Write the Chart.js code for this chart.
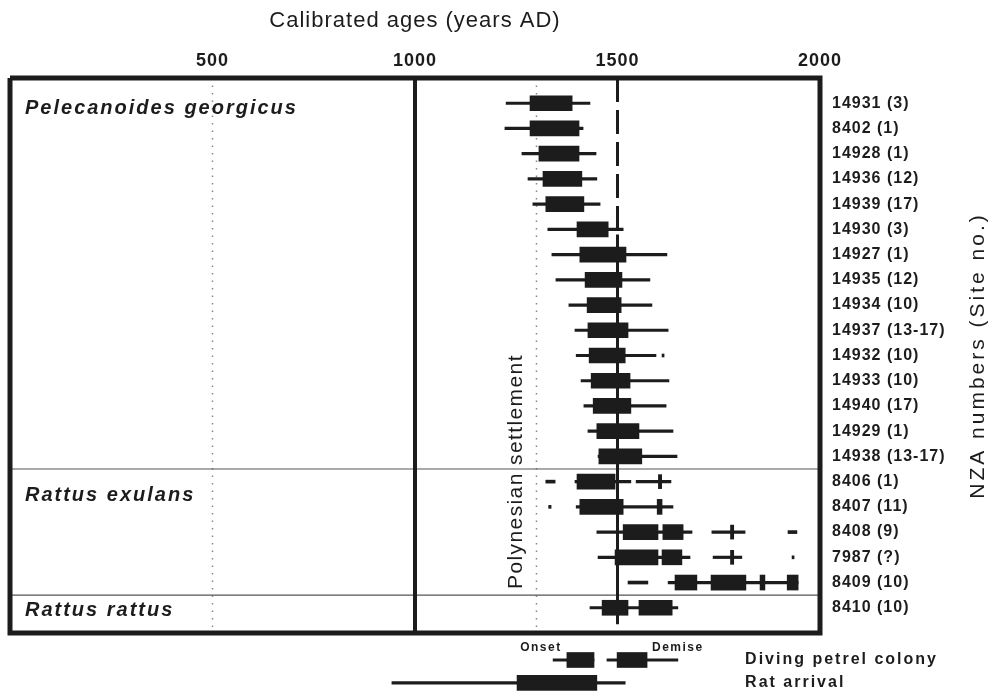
<!DOCTYPE html>
<html lang="en">
<head>
<meta charset="UTF-8">
<script src="https://cdn.jsdelivr.net/npm/chart.js"></script>
<title>Calibrated ages</title>
<style>
  body { margin: 0; background: #fff; }
  canvas { display: block; }
</style>
</head>
<body>
<canvas id="myChart" width="993" height="695"></canvas>
<script>
// one row per NZA sample, top to bottom
const siteLabels = ['14931 (3)', '8402 (1)', '14928 (1)', '14936 (12)', '14939 (17)', '14930 (3)',
  '14927 (1)', '14935 (12)', '14934 (10)', '14937 (13-17)', '14932 (10)', '14933 (10)', '14940 (17)',
  '14929 (1)', '14938 (13-17)', '8406 (1)', '8407 (11)', '8408 (9)', '7987 (?)', '8409 (10)', '8410 (10)'];
const groups = ['Pelecanoides georgicus', 'Rattus exulans', 'Rattus rattus'];

// [row, from, to] in years AD
const boxes = [
  [0, 1284, 1388], [1, 1284, 1405], [2, 1306, 1405], [3, 1316, 1412], [4, 1323, 1417],
  [5, 1400, 1477], [6, 1407, 1521], [7, 1420, 1511], [8, 1425, 1509], [9, 1427, 1526],
  [10, 1430, 1519], [11, 1435, 1531], [12, 1440, 1533], [13, 1449, 1553], [14, 1454, 1560],
  [15, 1400, 1494], [16, 1407, 1514], [16, 1598, 1610],
  [17, 1514, 1600], [17, 1612, 1662], [18, 1494, 1600], [18, 1610, 1659],
  [19, 1642, 1696], [19, 1731, 1817], [19, 1852, 1864], [19, 1919, 1946],
  [20, 1462, 1526], [20, 1553, 1635]
];
const whiskers = [
  [0, 1225, 1432], [1, 1222, 1415], [2, 1264, 1447], [3, 1279, 1449], [4, 1291, 1457],
  [5, 1328, 1514], [6, 1338, 1622], [7, 1348, 1580], [8, 1380, 1585], [9, 1395, 1625],
  [10, 1398, 1595], [11, 1410, 1627], [12, 1417, 1620], [13, 1427, 1637], [14, 1452, 1647],
  [15, 1395, 1533], [15, 1546, 1632], [16, 1398, 1637],
  [17, 1449, 1684], [17, 1733, 1815], [18, 1452, 1679], [18, 1736, 1807],
  [19, 1625, 1946], [20, 1432, 1649]
];
const dashes = [
  [10, 1610, 1615], [15, 1323, 1346], [16, 1330, 1336], [17, 1921, 1943], [18, 1931, 1936], [19, 1526, 1575]
];
const crossTicks = [[15, 1605], [17, 1783], [18, 1783]];

// key below the plot: row 0 = diving petrel colony, row 1 = rat arrival
const keyLabels = ['Diving petrel colony', 'Rat arrival'];
const keyBoxes = [[0, 1375, 1442], [0, 1499, 1573], [1, 1252, 1449]];
const keyWhiskers = [[0, 1341, 1442], [0, 1474, 1649], [1, 943, 1519]];

const settlementYear = 1500;
const dottedYears = [500, 1300];
const ageTicks = [500, 1000, 1500, 2000];

const keyRowY = [22.07, 22.98];
const INK = '#1c1c1c';
const FONT = "'Liberation Sans', Arial, sans-serif";

const bars = (list, thick, order, rowY) => ({
  type: 'bar',
  data: list.map(([r, a, b]) => ({ x: [a, b], y: rowY ? rowY[r] : r })),
  backgroundColor: INK,
  barThickness: thick,
  grouped: false,
  order: order,
  clip: rowY ? false : undefined
});

const line = (pts, width, color, dash, order) => ({
  type: 'line',
  data: pts,
  borderColor: color,
  borderWidth: width,
  borderDash: dash,
  borderJoinStyle: 'miter',
  pointRadius: 0,
  fill: false,
  order: order,
  clip: false
});

const datasets = [
  bars(boxes, 15, 1),
  bars(crossTicks.map(([r, c]) => [r, c - 4, c + 4]), 14, 2),
  bars(dashes, 3, 2),
  bars(whiskers, 2.5, 3),
  bars(keyBoxes, 15, 1, keyRowY),
  bars(keyWhiskers, 2.5, 3, keyRowY),
  line([{ x: settlementYear, y: -1 }, { x: settlementYear, y: 5.2 }], 3, INK, [24, 8], 4),
  line([{ x: settlementYear, y: 5.2 }, { x: settlementYear, y: 20.65 }], 3, INK, [], 4),
  line([{ x: 1000, y: -1 }, { x: 1000, y: 21 }], 4, INK, [], 0),
  line([{ x: 0, y: -1 }, { x: 2000, y: -1 }, { x: 2000, y: 21 }, { x: 0, y: 21 }, { x: 0, y: -1 }], 5, INK, [], 0),
  line([{ x: 0, y: 14.5 }, { x: 2000, y: 14.5 }], 1.2, '#555', [], 9),
  line([{ x: 0, y: 19.5 }, { x: 2000, y: 19.5 }], 1.2, '#555', [], 9)
];
dottedYears.forEach(yr => {
  datasets.push(line([{ x: yr, y: -1 }, { x: yr, y: 21 }], 1.5, '#888', [1.5, 6], 10));
});

const textPlugin = {
  id: 'texts',
  beforeDraw(chart) {
    chart.ctx.letterSpacing = '1px';
  },
  afterDraw(chart) {
    const { ctx, scales: { x, y } } = chart;
    const put = (txt, px, py, font, spacing, align, rot) => {
      ctx.save();
      ctx.font = font;
      ctx.letterSpacing = spacing;
      ctx.textAlign = align;
      ctx.textBaseline = 'middle';
      ctx.fillStyle = INK;
      ctx.translate(px, py);
      if (rot) ctx.rotate(rot);
      ctx.fillText(txt, 0, 0);
      ctx.restore();
    };
    const italic = 'italic bold 20px ' + FONT;
    put(groups[0], x.getPixelForValue(37), y.getPixelForValue(0.2), italic, '2px', 'left');
    put(groups[1], x.getPixelForValue(37), y.getPixelForValue(15.55), italic, '2px', 'left');
    put(groups[2], x.getPixelForValue(37), y.getPixelForValue(20.1), italic, '2px', 'left');

    put('Polynesian settlement', x.getPixelForValue(1249), y.getPixelForValue(14.6),
      '21px ' + FONT, '1.4px', 'center', -Math.PI / 2);

    put('NZA numbers (Site no.)', y.right - 15, (y.top + y.bottom) / 2,
      '21px ' + FONT, '3px', 'center', -Math.PI / 2);

    put('Onset', x.getPixelForValue(1311), y.getPixelForValue(21.6), 'bold 12px ' + FONT, '1.5px', 'center');
    put('Demise', x.getPixelForValue(1649), y.getPixelForValue(21.6), 'bold 12px ' + FONT, '1.5px', 'center');
    keyLabels.forEach((t, i) => {
      put(t, x.getPixelForValue(1815), y.getPixelForValue(keyRowY[i]), 'bold 16px ' + FONT, '2px', 'left');
    });
  }
};

const ctx = document.getElementById('myChart').getContext('2d');
new Chart(ctx, {
  type: 'bar',
  data: { datasets: datasets },
  plugins: [textPlugin],
  options: {
    indexAxis: 'y',
    responsive: false,
    animation: false,
    devicePixelRatio: 1,
    layout: { padding: { left: 10, right: 0, top: 0, bottom: 62 } },
    plugins: { legend: { display: false }, tooltip: { enabled: false } },
    scales: {
      x: {
        type: 'linear',
        position: 'top',
        min: 0,
        max: 2000,
        grid: { display: false, drawTicks: false },
        border: { display: false },
        ticks: {
          stepSize: 500,
          maxRotation: 0,
          padding: 6,
          color: INK,
          font: { family: FONT, size: 18, weight: 'bold' },
          callback: v => ageTicks.includes(v) ? String(v) : ''
        },
        title: {
          display: true,
          text: 'Calibrated ages (years AD)',
          color: INK,
          font: { family: FONT, size: 22 },
          padding: { top: 8, bottom: 0 }
        },
        afterFit: s => { s.height = 78; }
      },
      y: {
        type: 'linear',
        position: 'right',
        min: -1,
        max: 21,
        reverse: true,
        offset: false,
        grid: { display: false, drawTicks: false, offset: false },
        border: { display: false },
        ticks: {
          stepSize: 1,
          autoSkip: false,
          padding: 12,
          color: INK,
          font: { family: FONT, size: 16, weight: 'bold' },
          callback: v => siteLabels[v] || ''
        },
        afterFit: s => { s.width = 173; }
      }
    }
  }
});
</script>
</body>
</html>
